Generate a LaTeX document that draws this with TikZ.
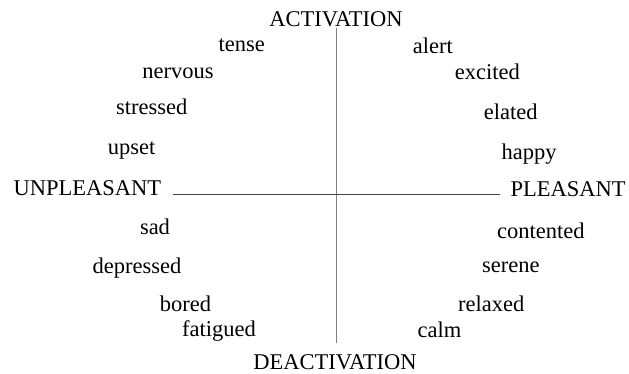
\documentclass[tikz,border=0pt]{standalone}
\usepackage{fontspec}
\setmainfont{Liberation Serif}
\begin{document}
\begin{tikzpicture}[x=1pt,y=-1pt,
  word/.style={anchor=base,inner sep=0pt,font=\fontsize{22.5}{26}\selectfont},
  axis/.style={line width=1pt}]
\useasboundingbox (0,0) rectangle (629,374);
% axis labels
\node[word] (act) at (336,26.7) {ACTIVATION};
\node[word] (deact) at (335,369.5) {DEACTIVATION};
\node[word] (unp) at (87.5,196) {UNPLEASANT};
\node[word] (ple) at (568,196.5) {PLEASANT};
% axes
\coordinate (vtop) at (336,28);
\coordinate (vbot) at (336,343);
\coordinate (hleft) at (173,194.5);
\coordinate (hright) at (500,194.5);
\draw[axis,draw=black!50] (vtop) -- (vbot);
\draw[axis,draw=black!72] (hleft) -- (hright);
% words
\node[word] (tense) at (241.7,51.7) {tense};
\node[word] (nervous) at (178,78.3) {nervous};
\node[word] (stressed) at (151.7,115) {stressed};
\node[word] (upset) at (131.7,155) {upset};
\node[word] (alert) at (432.8,53.3) {alert};
\node[word] (excited) at (487.3,80) {excited};
\node[word] (elated) at (510.8,120) {elated};
\node[word] (happy) at (529,160) {happy};
\node[word] (sad) at (155,235) {sad};
\node[word] (depressed) at (137,273.3) {depressed};
\node[word] (bored) at (185.5,311.7) {bored};
\node[word] (fatigued) at (219,336.7) {fatigued};
\node[word] (contented) at (540.8,238.3) {contented};
\node[word] (serene) at (510.8,272.7) {serene};
\node[word] (relaxed) at (491.2,311.7) {relaxed};
\node[word] (calm) at (439.5,337.7) {calm};
\end{tikzpicture}
\end{document}
